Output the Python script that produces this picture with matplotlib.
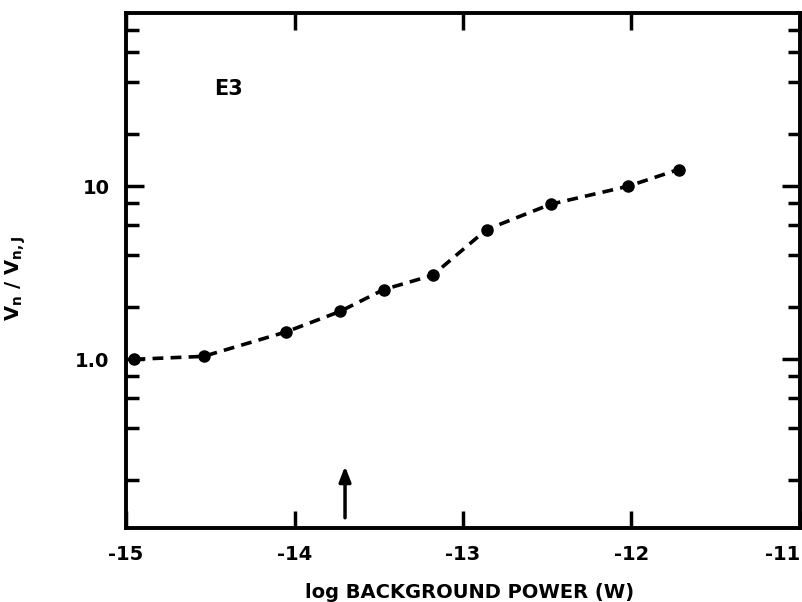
import matplotlib
matplotlib.use('Agg')

import matplotlib.pyplot as plt
from matplotlib.ticker import FixedLocator, NullFormatter

# data
log_power = [-14.95, -14.54, -14.05, -13.73, -13.47, -13.18, -12.86, -12.48, -12.02, -11.72]
noise_ratio = [1.0, 1.04, 1.44, 1.89, 2.53, 3.06, 5.62, 7.87, 10.0, 12.5]

x_ticks = [-15, -14, -13, -12, -11]
x_tick_labels = ['-15', '-14', '-13', '-12', '-11']
y_major = [1, 10]
y_major_labels = ['1.0', '10']
y_minor = [0.2, 0.4, 0.6, 0.8, 2, 4, 6, 8, 20, 40, 60, 80]

arrow_x = -13.70
arrow_from, arrow_to = 0.117, 0.25

plt.rcParams['font.family'] = ['DejaVu Sans']
plt.rcParams['font.weight'] = 'bold'

fig = plt.figure(figsize=(8.03, 6.02), dpi=100)
ax = fig.add_axes([0.157, 0.123, 0.839, 0.855])

# dashed curve with dots
ax.plot(log_power, noise_ratio, color='black', linestyle=(0, (3, 2)), linewidth=2.6,
        marker='o', markersize=8, markerfacecolor='black', markeredgecolor='black')

ax.set_yscale('log')
ax.set_xlim(-15, -11)
ax.set_ylim(0.106, 100)

# ticks - inward on all four sides
ax.xaxis.set_major_locator(FixedLocator(x_ticks))
ax.set_xticklabels(x_tick_labels, fontsize=14, fontweight='bold')
ax.get_xticklabels()[-1].set_horizontalalignment('right')   # keep -11 inside the picture
ax.yaxis.set_major_locator(FixedLocator(y_major))
ax.set_yticklabels(y_major_labels, fontsize=14, fontweight='bold')
ax.yaxis.set_minor_locator(FixedLocator(y_minor))
ax.yaxis.set_minor_formatter(NullFormatter())
ax.xaxis.set_minor_locator(FixedLocator([]))

ax.tick_params(which='both', direction='in', top=True, right=True, width=2.5, colors='black')
ax.tick_params(axis='x', which='major', length=12, pad=12)
ax.tick_params(axis='y', which='major', length=13, pad=12)
ax.tick_params(axis='y', which='minor', length=9)

for side in ax.spines.values():
    side.set_linewidth(2.8)

# labels
ax.set_xlabel('log BACKGROUND POWER (W)', fontsize=14, fontweight='bold')
ax.xaxis.set_label_coords(0.51, -0.107)
ax.set_ylabel(r'V$_\mathbf{n}$ / V$_\mathbf{n,J}$', fontsize=14, fontweight='bold')
ax.yaxis.set_label_coords(-0.145, 0.485)

ax.text(-14.39, 36.5, 'E3', fontsize=15, fontweight='bold', ha='center', va='center')

# arrow marking the point
ax.annotate('', xy=(arrow_x, arrow_to), xytext=(arrow_x, arrow_from),
            arrowprops=dict(arrowstyle='-|>,head_length=0.9,head_width=0.35', color='black', lw=2.5))

plt.savefig('out.png', dpi=100)
plt.close('all')
